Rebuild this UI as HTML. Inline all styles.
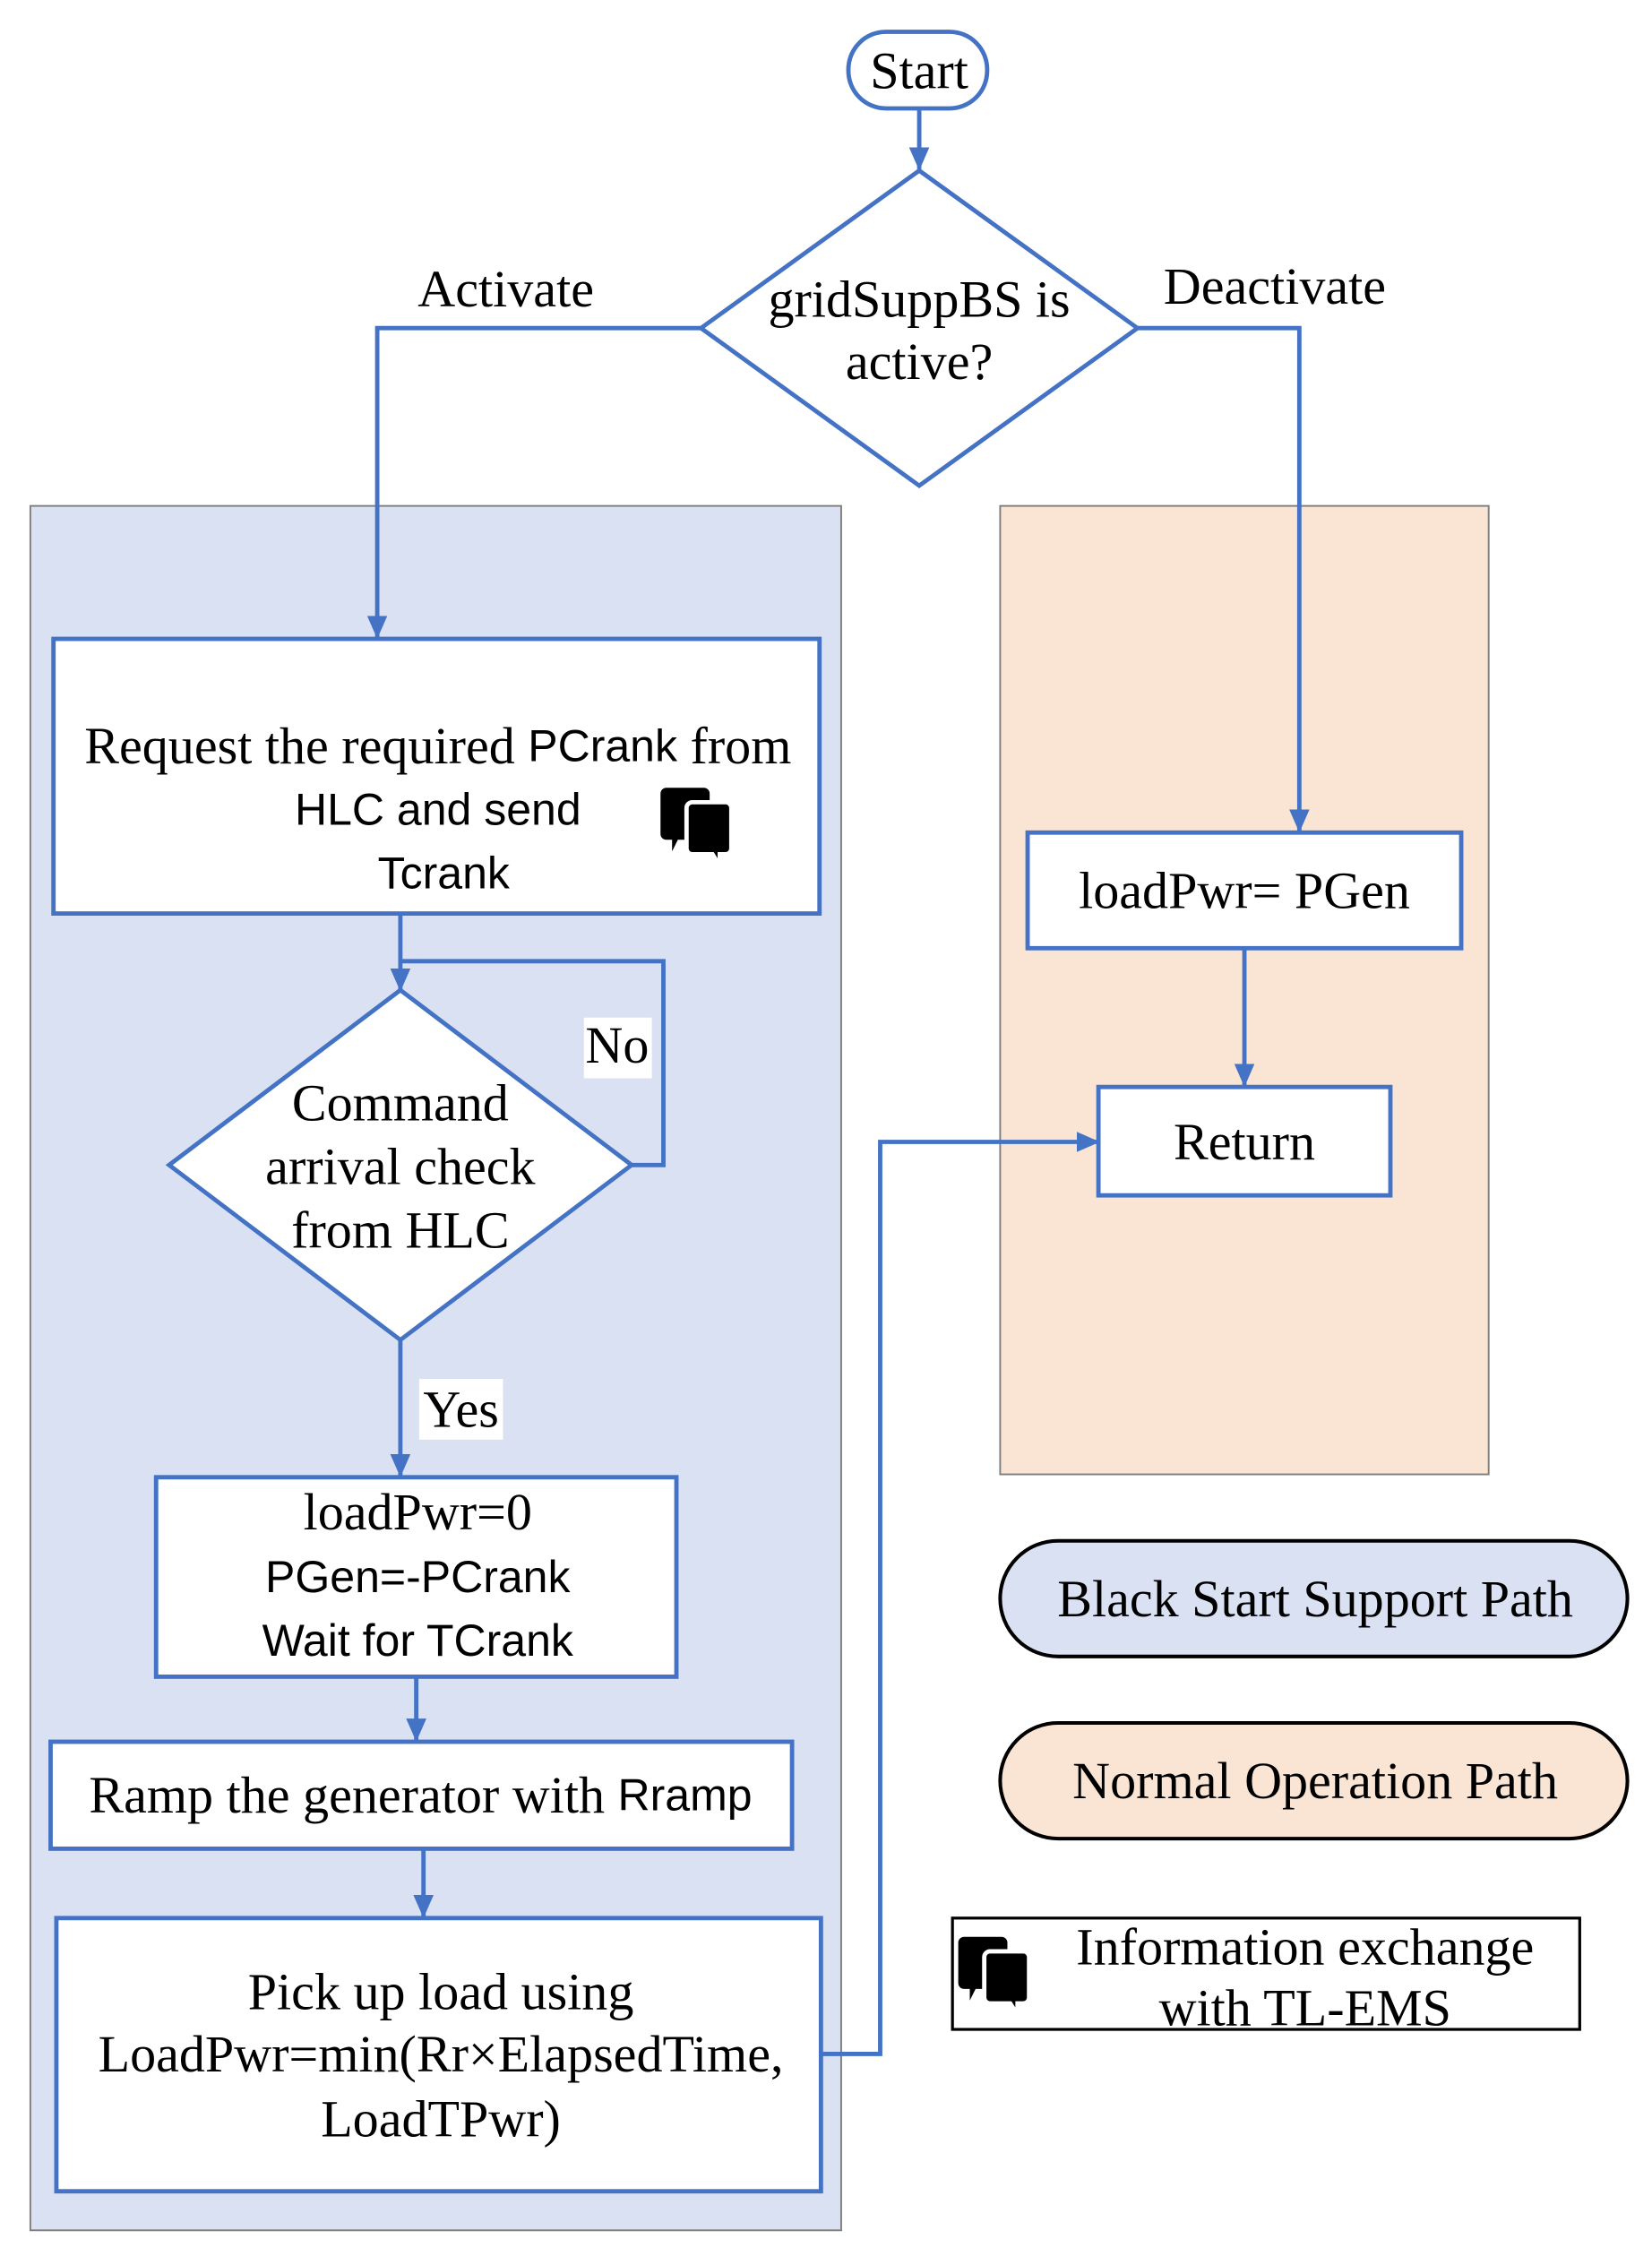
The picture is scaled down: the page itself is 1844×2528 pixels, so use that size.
<!DOCTYPE html>
<html><head><style>
html,body{margin:0;padding:0;background:#fff;}
svg{display:block;}
text{font-family:"Liberation Serif",serif;font-size:36px;fill:#000;}
.s{font-family:"Liberation Sans",sans-serif;font-size:31px;}
</style></head><body>
<svg width="1844" height="2528" viewBox="0 0 1143 1567" xmlns="http://www.w3.org/2000/svg">
<defs>
<marker id="a" markerWidth="16" markerHeight="14" refX="15" refY="7" orient="auto" markerUnits="userSpaceOnUse" viewBox="0 0 16 14">
<path d="M0,0 L16,7 L0,14 Z" fill="#4472c4"/></marker>
<g id="ic">
<path d="M2,0 h26 a4,4 0 0 1 4,4 v28 a4,4 0 0 1 -4,4 h-18 l-4,8 v-8 h-4 a4,4 0 0 1 -4,-4 v-28 a4,4 0 0 1 4,-4z" fill="#000"/>
<path d="M20,10 h23 a4,4 0 0 1 4,4 v28 a4,4 0 0 1 -4,4 h-4 v8 l-5,-8 h-14 a4,4 0 0 1 -4,-4 v-28 a4,4 0 0 1 4,-4z" fill="#000" stroke="#fff" stroke-width="3"/>
</g>
</defs>
<rect x="21" y="350" width="561" height="1193" fill="#dae1f3" stroke="#7f7f7f" stroke-width="1.2"/>
<rect x="692" y="350" width="338" height="670" fill="#fae5d5" stroke="#7f7f7f" stroke-width="1.2"/>
<g stroke="#4472c4" stroke-width="3" fill="none">
<rect x="587" y="22" width="96" height="53" rx="26" fill="#fff"/>
<line x1="636" y1="75" x2="636" y2="117" marker-end="url(#a)"/>
<polygon points="636,118 787,227 636,336 485,227" fill="#fff"/>
<polyline points="485,227 261,227 261,441" marker-end="url(#a)"/>
<polyline points="787,227 899,227 899,575" marker-end="url(#a)"/>
<rect x="37" y="442" width="530" height="190" fill="#fff"/>
<line x1="277" y1="632" x2="277" y2="685" marker-end="url(#a)"/>
<polyline points="437,806 459,806 459,665 277,665"/>
<polygon points="277,685 437,806 277,927 117,806" fill="#fff"/>
<line x1="277" y1="927" x2="277" y2="1021" marker-end="url(#a)"/>
<rect x="108" y="1022" width="360" height="138" fill="#fff"/>
<line x1="288" y1="1160" x2="288" y2="1204" marker-end="url(#a)"/>
<rect x="35" y="1205" width="513" height="74" fill="#fff"/>
<line x1="293" y1="1279" x2="293" y2="1326" marker-end="url(#a)"/>
<rect x="39" y="1327" width="529" height="189" fill="#fff"/>
<polyline points="568,1421 609,1421 609,790 760,790" marker-end="url(#a)"/>
<rect x="711" y="576" width="300" height="80" fill="#fff"/>
<line x1="861" y1="656" x2="861" y2="751" marker-end="url(#a)"/>
<rect x="760" y="752" width="202" height="75" fill="#fff"/>
</g>
<rect x="692" y="1066" width="434" height="80" rx="40" fill="#dae1f3" stroke="#000" stroke-width="2.5"/>
<rect x="692" y="1192" width="434" height="80" rx="40" fill="#fae5d5" stroke="#000" stroke-width="2.5"/>
<rect x="659" y="1327" width="434" height="77" fill="#fff" stroke="#000" stroke-width="2"/>
<rect x="404" y="704" width="47" height="42" fill="#fff"/>
<rect x="290" y="954" width="58" height="42" fill="#fff"/>
<g text-anchor="middle" dominant-baseline="central">
<text x="636" y="49">Start</text>
<text x="636" y="207">gridSuppBS is</text>
<text x="636" y="250">active?</text>
<text x="350" y="200">Activate</text>
<text x="882" y="198">Deactivate</text>
<text x="303" y="516">Request the required <tspan class="s">PCrank</tspan> from</text>
<text x="303" y="560" class="s">HLC and send</text>
<text x="307" y="604" class="s">Tcrank</text>
<text x="277" y="763">Command</text>
<text x="277" y="807">arrival check</text>
<text x="277" y="851">from HLC</text>
<text x="427" y="723">No</text>
<text x="319" y="975">Yes</text>
<text x="289" y="1046">loadPwr=0</text>
<text x="289" y="1091" class="s">PGen=-PCrank</text>
<text x="289" y="1135" class="s">Wait for TCrank</text>
<text x="291" y="1242">Ramp the generator with <tspan class="s">Rramp</tspan></text>
<text x="305" y="1378">Pick up load using</text>
<text x="305" y="1421">LoadPwr=min(Rr×ElapsedTime,</text>
<text x="305" y="1466">LoadTPwr)</text>
<text x="861" y="616">loadPwr= PGen</text>
<text x="861" y="790">Return</text>
<text x="910" y="1106">Black Start Support Path</text>
<text x="910" y="1232">Normal Operation Path</text>
<text x="903" y="1347">Information exchange</text>
<text x="903" y="1389">with TL-EMS</text>
</g>
<use href="#ic" x="459" y="545"/>
<use href="#ic" x="665" y="1340"/>
</svg>
</body></html>
